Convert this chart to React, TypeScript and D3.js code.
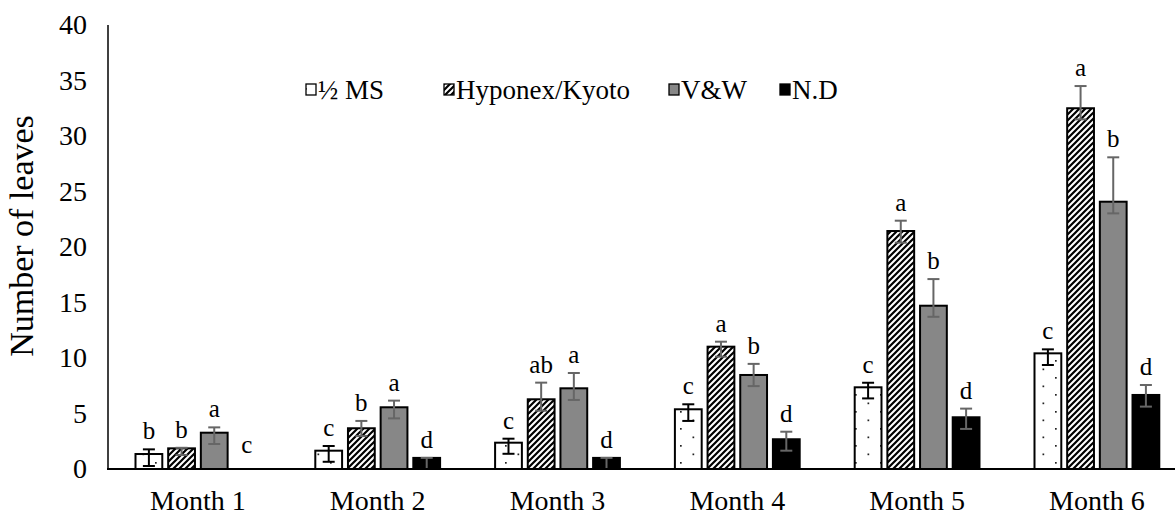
import React from 'react';
import * as d3 from 'd3';

// ---------- data ----------
const months = ['Month 1', 'Month 2', 'Month 3', 'Month 4', 'Month 5', 'Month 6'];
const seriesNames = ['½ MS', 'Hyponex/Kyoto', 'V&W', 'N.D'];

const halfMS = [1.35, 1.65, 2.37, 5.38, 7.36, 10.42];
const hyponex = [1.86, 3.67, 6.28, 11.02, 21.44, 32.5];
const vw = [3.27, 5.56, 7.27, 8.47, 14.71, 24.08];
const nd = [0, 1.0, 1.0, 2.68, 4.66, 6.67];

const halfMSErrPlus = [0.42, 0.42, 0.36, 0.45, 0.41, 0.36];
const hyponexErrPlus = [0.05, 0.66, 1.5, 0.45, 0.93, 2.0];
const vwErrPlus = [0.48, 0.6, 1.38, 1.0, 2.4, 4.0];
const ndErrPlus = [0, 0, 0, 0.68, 0.78, 0.9];

const halfMSErrMinus = [1.08, 1.0, 1.0, 1.05, 1.0, 1.05];
const hyponexErrMinus = [0.6, 0.7, 1.03, 0.9, 1.05, 1.0];
const vwErrMinus = [1.02, 1.0, 1.05, 1.0, 1.0, 1.05];
const ndErrMinus = [0, 1.0, 1.0, 1.03, 1.05, 1.05];

const halfMSLetters = ['b', 'c', 'c', 'c', 'c', 'c'];
const hyponexLetters = ['b', 'b', 'ab', 'a', 'a', 'a'];
const vwLetters = ['a', 'a', 'a', 'b', 'b', 'b'];
const ndLetters = ['c', 'd', 'd', 'd', 'd', 'd'];

const yTicks = [0, 5, 10, 15, 20, 25, 30, 35, 40];

// ---------- layout / style ----------
const W = 1175;
const H = 515;
const FONT = "'Liberation Serif', 'Times New Roman', Tinos, 'DejaVu Serif', serif";
const legendTextX = [318, 456, 681, 792];

const fills = ['url(#dots)', 'url(#hatch)', '#878787', '#000000'];
const errColors = ['#000000', '#666666', '#666666', '#666666'];

const series = [
  { name: seriesNames[0], values: halfMS, ep: halfMSErrPlus, em: halfMSErrMinus, letters: halfMSLetters },
  { name: seriesNames[1], values: hyponex, ep: hyponexErrPlus, em: hyponexErrMinus, letters: hyponexLetters },
  { name: seriesNames[2], values: vw, ep: vwErrPlus, em: vwErrMinus, letters: vwLetters },
  { name: seriesNames[3], values: nd, ep: ndErrPlus, em: ndErrMinus, letters: ndLetters },
];

const txt = (size: number): React.CSSProperties => ({ fontFamily: FONT, fontSize: size });

export default function App() {
  const catW = 179.8;
  const x0 = d3.scaleBand<string>().domain(months).range([108, 108 + 6 * catW]);
  const x1 = d3.scaleBand<string>().domain(seriesNames).range([27.5, catW - 27.5]).paddingInner(0.18);
  const y = d3.scaleLinear().domain([0, 40]).range([469, 25]);
  const bw = x1.bandwidth();
  const capHalf = 6;

  return (
    <svg width={W} height={H} style={{ position: 'absolute', left: 0, top: 0, background: '#fff' }}>
      <defs>
        <pattern id="dots" patternUnits="userSpaceOnUse" width={25} height={17}>
          <rect width={25} height={17} fill="#fff" />
          <rect x={5} y={3} width={1.7} height={1.7} fill="#222" />
          <rect x={17.5} y={11.5} width={1.7} height={1.7} fill="#222" />
        </pattern>
        <pattern id="hatch" patternUnits="userSpaceOnUse" width={6} height={6}>
          <rect width={6} height={6} fill="#fff" />
          <path d="M-1,1 l2,-2 M0,6 l6,-6 M5,7 l2,-2" stroke="#000" strokeWidth={2.2} />
        </pattern>
      </defs>
      <rect width={W} height={H} fill="#fff" />

      {/* y tick labels */}
      {yTicks.map((t) => (
        <text key={t} x={87} y={y(t)} dy="0.33em" textAnchor="end" style={txt(28)} fill="#000">
          {t}
        </text>
      ))}

      {/* y axis title */}
      <text transform="translate(33,236) rotate(-90)" textAnchor="middle" style={txt(34)} fill="#000">
        Number of leaves
      </text>

      {/* bars */}
      {series.map((s, si) =>
        months.map((m, mi) => {
          const v = s.values[mi];
          const bx = (x0(m) as number) + (x1(s.name) as number);
          const cx = bx + bw / 2;
          const top = y(v);
          const ep = s.ep[mi];
          const em = s.em[mi];
          const errTop = y(v + ep);
          const errBot = y(Math.max(0, v - em));
          const letterY = v > 0 ? errTop - 10 : y(0) - 16;
          return (
            <g key={`${si}-${mi}`}>
              {v > 0 && (
                <rect x={bx} y={top} width={bw} height={y(0) - top} fill={fills[si]} stroke="#000" strokeWidth={2} />
              )}
              {v > 0 && (
                <g stroke={errColors[si]} strokeWidth={2}>
                  <line x1={cx} x2={cx} y1={errTop} y2={errBot} />
                  <line x1={cx - capHalf} x2={cx + capHalf} y1={errTop} y2={errTop} />
                  <line x1={cx - capHalf} x2={cx + capHalf} y1={errBot} y2={errBot} />
                </g>
              )}
              <text x={cx} y={letterY} textAnchor="middle" style={txt(25)} fill="#000">
                {s.letters[mi]}
              </text>
            </g>
          );
        })
      )}

      {/* axes lines */}
      <line x1={108} x2={108} y1={y(40)} y2={y(0)} stroke="#000" strokeWidth={1.5} />
      <line x1={107} x2={W} y1={y(0)} y2={y(0)} stroke="#000" strokeWidth={2} />

      {/* x labels */}
      {months.map((m) => (
        <text
          key={m}
          x={(x0(m) as number) + x0.bandwidth() / 2}
          y={510}
          textAnchor="middle"
          style={txt(28)}
          fill="#000"
        >
          {m}
        </text>
      ))}

      {/* legend */}
      {series.map((s, si) => (
        <g key={s.name}>
          <rect x={legendTextX[si] - 12} y={84} width={10} height={11} fill={fills[si]} stroke="#000" strokeWidth={1.3} />
          <text x={legendTextX[si]} y={99} style={txt(27)} fill="#000">
            {s.name}
          </text>
        </g>
      ))}
    </svg>
  );
}
